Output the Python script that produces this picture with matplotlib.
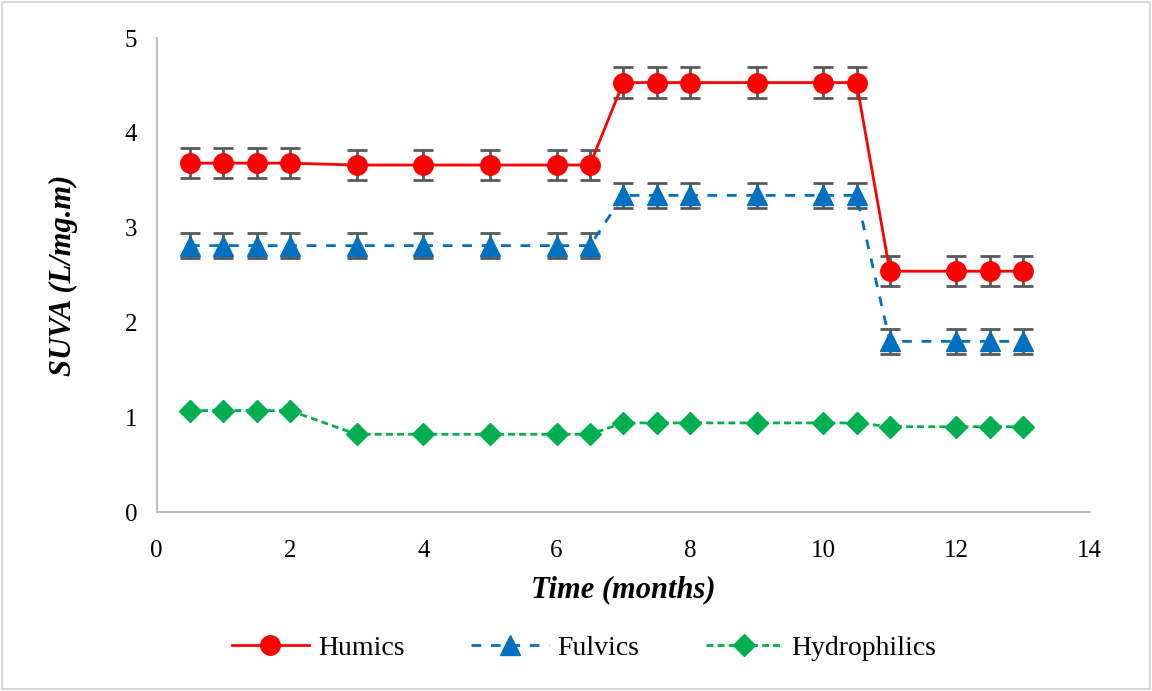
import numpy as np
import matplotlib.pyplot as plt
from matplotlib.lines import Line2D

plt.rcParams['font.family'] = ['Liberation Serif', 'DejaVu Serif']

# sampling times (months)
months = [0.5, 1, 1.5, 2, 3, 4, 5, 6, 6.5, 7, 7.5, 8, 9, 10, 10.5, 11, 12, 12.5, 13]

humics = [3.68, 3.68, 3.68, 3.68, 3.66, 3.66, 3.66, 3.66, 3.66,
          4.53, 4.53, 4.53, 4.53, 4.53, 4.53, 2.54, 2.54, 2.54, 2.54]
humics_err = [0.16] * len(months)

fulvics = [2.81, 2.81, 2.81, 2.81, 2.81, 2.81, 2.81, 2.81, 2.81,
           3.34, 3.34, 3.34, 3.34, 3.34, 3.34, 1.80, 1.80, 1.80, 1.80]
fulvics_err = [0.13] * len(months)

hydrophilics = [1.07, 1.07, 1.07, 1.07, 0.82, 0.82, 0.82, 0.82, 0.82,
                0.94, 0.94, 0.94, 0.94, 0.94, 0.94, 0.90, 0.90, 0.90, 0.90]

fig = plt.figure(figsize=(11.52, 6.91), dpi=100)
ax = fig.add_axes([0.136, 0.259, 0.81, 0.686])

# light frame around the whole chart
fig.patches.append(plt.Rectangle((0.002, 0.003), 0.996, 0.994, transform=fig.transFigure,
                                 fill=False, edgecolor='#d0d0d0', linewidth=1.2))

err_kw = dict(ecolor='#595959', elinewidth=2, capsize=7, capthick=2)

hum_style = dict(color='#ff0000', linestyle='-', linewidth=2, marker='o', markersize=14)
ful_style = dict(color='#0070c0', linestyle=(0, (3.5, 3.5)), linewidth=2, marker='^', markersize=15)
hyd_style = dict(color='#00b050', linestyle=(0, (2.5, 1.5)), linewidth=2, marker='D', markersize=11)

ax.errorbar(months, humics, yerr=humics_err, zorder=3, **hum_style, **err_kw)
ax.errorbar(months, fulvics, yerr=fulvics_err, zorder=3, **ful_style, **err_kw)
ax.plot(months, hydrophilics, zorder=3, **hyd_style)

ax.set_xlim(0, 14)
ax.set_ylim(0, 5)
ax.set_xticks(np.arange(0, 15, 2))
ax.set_yticks(np.arange(0, 6, 1))
ax.tick_params(labelsize=18, length=0)
ax.tick_params(axis='x', pad=20)
ax.tick_params(axis='y', pad=14)

for side in ['top', 'right']:
    ax.spines[side].set_visible(False)
for side in ['left', 'bottom']:
    ax.spines[side].set_color('#bfbfbf')
    ax.spines[side].set_linewidth(1.5)

ax.set_xlabel('Time (months)', fontsize=22, fontweight='bold', fontstyle='italic', labelpad=10)
ax.set_ylabel('SUVA (L/mg.m)', fontsize=22, fontweight='bold', fontstyle='italic', labelpad=34)

handles = [Line2D([], [], **hum_style), Line2D([], [], **ful_style), Line2D([], [], **hyd_style)]
labels = ['Humics', 'Fulvics', 'Hydrophilics']
fig.legend(handles, labels, loc='center', bbox_to_anchor=(0.507, 0.062), ncol=3, frameon=False,
           fontsize=20, handlelength=2.8, columnspacing=2.4, handletextpad=0.3)

fig.savefig('out.png', dpi=100)
